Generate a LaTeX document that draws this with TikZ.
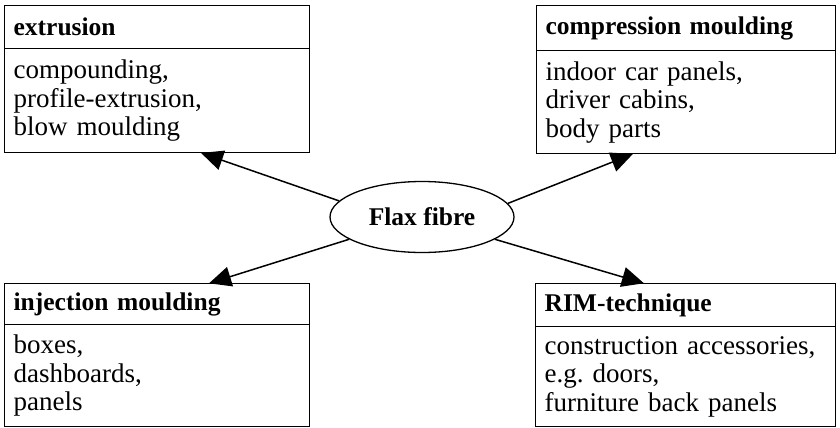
\documentclass[tikz,border=0pt]{standalone}
\usepackage{fontspec}
\setmainfont{Liberation Serif}
\usetikzlibrary{arrows.meta,shapes.geometric}
\begin{document}
\begin{tikzpicture}[x=1pt,y=-1pt,
  every node/.style={line width=1.3pt},
  hdr/.style={draw, rectangle, anchor=north west, inner xsep=9pt, inner ysep=0pt,
    align=left, font=\fontsize{25.5}{28}\selectfont\bfseries},
  bdy/.style={draw, rectangle, anchor=north west, inner xsep=9pt, inner ysep=0pt,
    align=left, font=\fontsize{27}{28.5}\selectfont\frenchspacing},
  arr/.style={line width=1.5pt, -{Triangle[length=22pt,width=20pt]}, shorten >=-1pt}]
\useasboundingbox (0,0) rectangle (840,428);
% top left
\node[hdr, text width=287pt, minimum height=43pt] (eh) at (4,5) {extrusion};
\node[bdy, text width=287pt, minimum height=104pt] (eb) at (4,48)
  {compounding,\\profile-extrusion,\\blow moulding};
% top right
\node[hdr, text width=281pt, minimum height=45pt] (ch) at (536,5) {compression moulding};
\node[bdy, text width=281pt, minimum height=103pt] (cb) at (536,50)
  {indoor car panels,\\driver cabins,\\body parts};
% bottom left
\node[hdr, text width=287pt, minimum height=41pt] (ih) at (4,283) {injection moulding};
\node[bdy, text width=287pt, minimum height=102pt] (ib) at (4,324)
  {boxes,\\dashboards,\\panels};
% bottom right
\node[hdr, text width=282pt, minimum height=43pt] (rh) at (535,283) {RIM-technique};
\node[bdy, text width=282pt, minimum height=100pt] (rb) at (535,326)
  {construction accessories,\\e.g. doors,\\furniture back panels};
% centre
\node[draw, ellipse, minimum width=184pt, minimum height=71pt, inner sep=0pt,
  font=\fontsize{25.5}{28}\selectfont\bfseries] (ff) at (422,217) {Flax fibre};
% arrows
\draw[arr] (ff.169) -- ([xshift=198pt]eb.south west);
\draw[arr] (ff.9) -- ([xshift=96pt]cb.south west);
\draw[arr] (ff.197) -- ([xshift=206pt]ih.north west);
\draw[arr] (ff.343) -- ([xshift=108pt]rh.north west);
\end{tikzpicture}
\end{document}
